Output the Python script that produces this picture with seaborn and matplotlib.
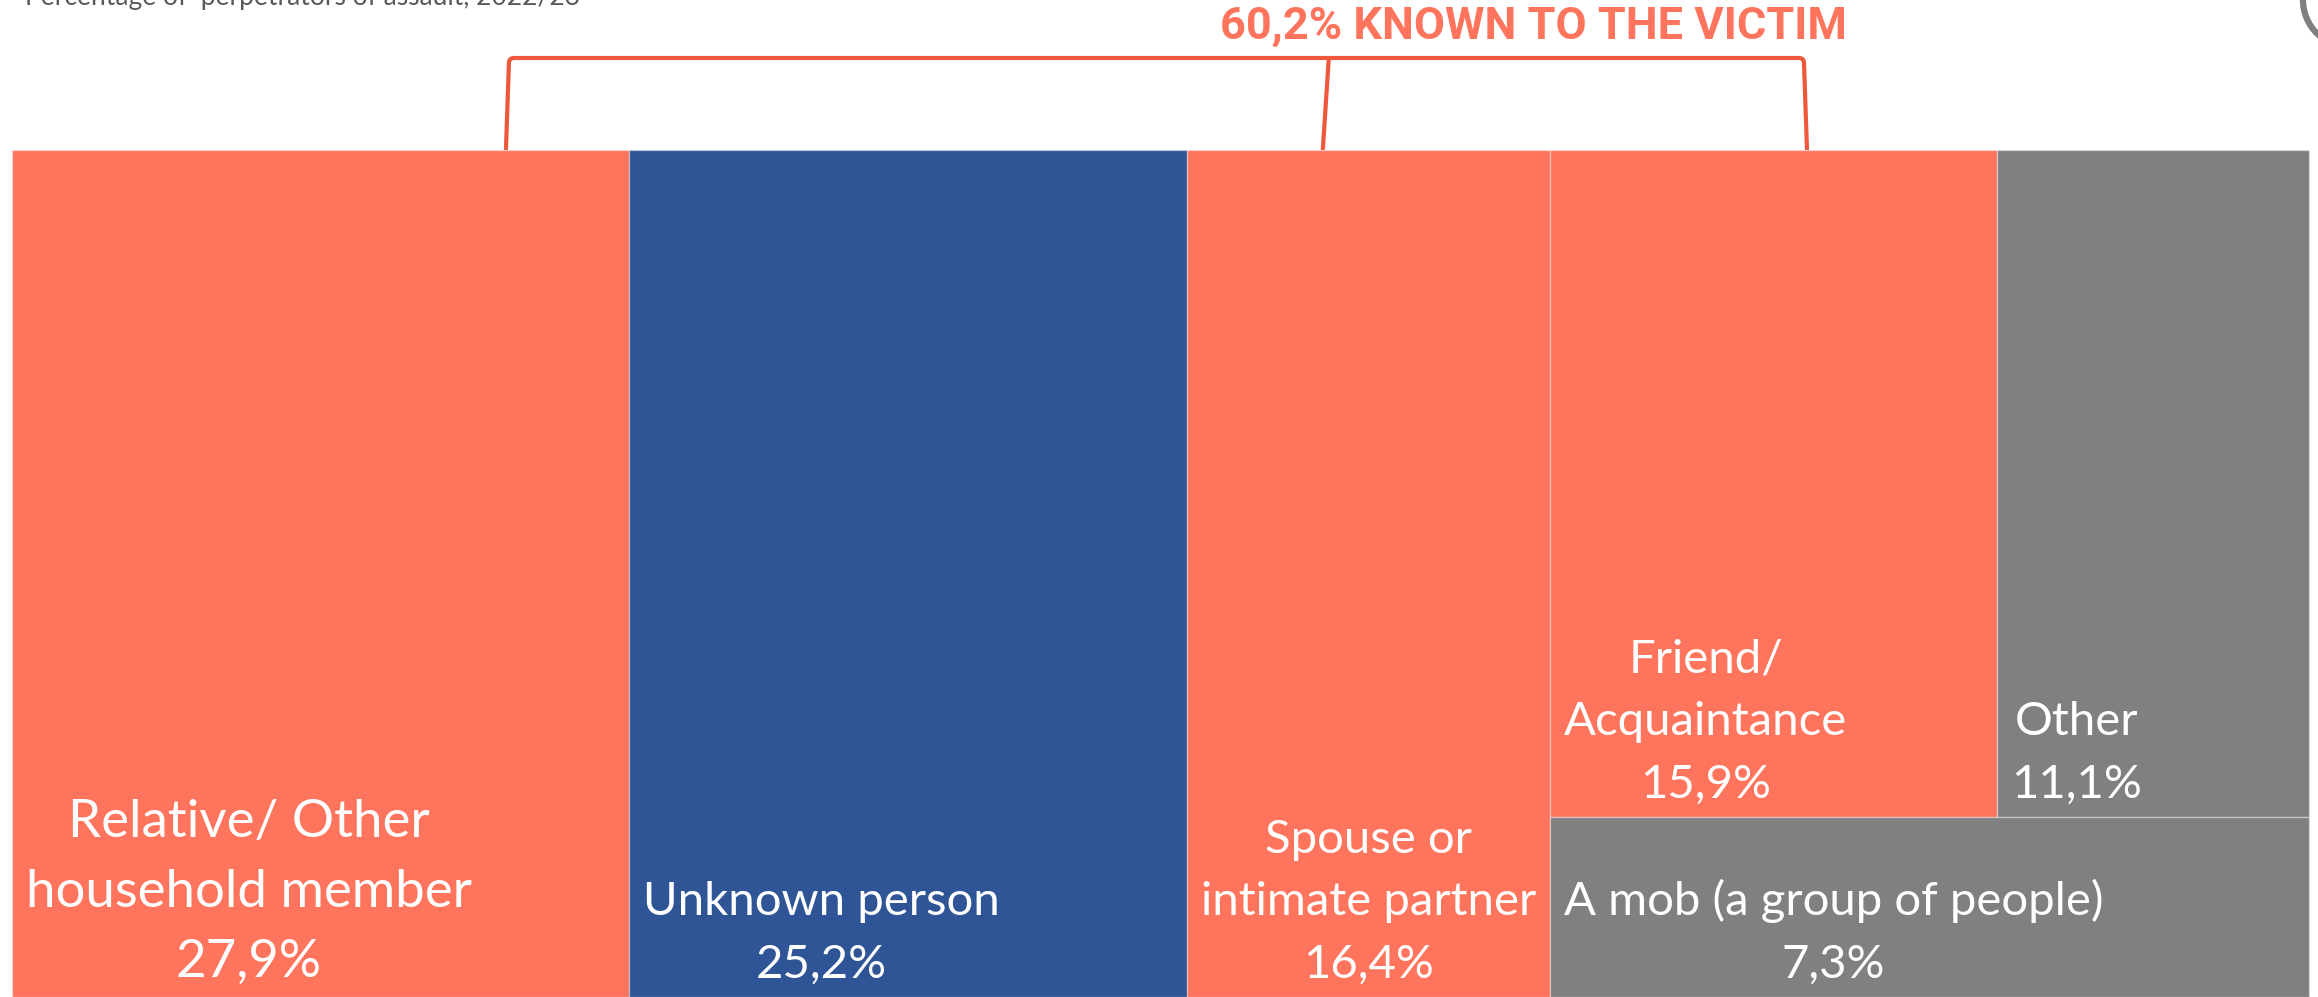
import matplotlib
matplotlib.use("Agg")
import matplotlib.pyplot as plt
import seaborn as sns
import numpy as np
from matplotlib.path import Path
from matplotlib.patches import PathPatch, Circle

# 数据：袭击者身份占比
labels = ["Relative/ Other\nhousehold member", "Unknown person", "Spouse or\nintimate partner",
          "Friend/\nAcquaintance", "Other", "A mob (a group of people)"]
values = [27.9, 25.2, 16.4, 15.9, 11.1, 7.3]
groups = ["known", "unknown", "known", "known", "other", "other"]
# 树状图的列和行编号
columns = [0, 1, 2, 3, 3, 3]
rows = [0, 0, 0, 0, 0, 1]

subtitle = "Percentage of  perpetrators of assault, 2022/23"

sns.set_style("white")
plt.rcParams['font.family'] = ['Lato', 'DejaVu Sans']

colors = {"known": "#FF745C", "unknown": "#2F5597", "other": "#808080"}
line_color = "#F0583E"

W, H = 2318, 997
fig = plt.figure(figsize=(W / 100, H / 100), dpi=100)
ax = fig.add_axes([0, 0, 1, 1])

total = sum(values)
# 像素到数据坐标的换算
left_px, right_px, top_px = 12, 2309, 150
sx = total / (right_px - left_px)
sy = 1.0 / (H - top_px)
ax.set_xlim(-left_px * sx, total + (W - right_px) * sx)
ax.set_ylim(0, H * sy)
ax.axis("off")

# 计算矩形（slice and dice）
values = np.array(values)
columns = np.array(columns)
rows = np.array(rows)
rects = [None] * len(values)
x = 0.0
for c in sorted(set(columns)):
    in_col = columns == c
    col_w = values[in_col].sum()
    col_total = values[in_col].sum()
    y = 1.0
    for r in sorted(set(rows[in_col])):
        in_row = in_col & (rows == r)
        row_h = values[in_row].sum() / col_total
        y -= row_h
        xx = x
        for i in np.where(in_row)[0]:
            w = values[i] / values[in_row].sum() * col_w
            rects[i] = (xx, y, w, row_h)
            xx += w
    x += col_w

for i, (rx, ry, rw, rh) in enumerate(rects):
    ax.bar(rx, rh, width=rw, bottom=ry, align="edge", color=colors[groups[i]],
           edgecolor=(1, 1, 1, 0.35), linewidth=1)
    size = 38 if i == 0 else 34
    txt = labels[i] + "\n" + f"{values[i]:.1f}%".replace(".", ",")
    ax.annotate(txt, (rx, ry), xytext=(10, 8), textcoords="offset points",
                ha="left", va="bottom", multialignment="center",
                color="white", fontsize=size, linespacing=1.6)

# 括号：已知的人
known_idx = [i for i, g in enumerate(groups) if g == "known"]
known_total = values[known_idx].sum()
fracs = [0.80, 0.374, 0.575]
xs = [rects[i][0] + f * rects[i][2] for i, f in zip(known_idx, fracs)]
y_top = (H - 58) * sy
lean = 3 * sx
rad_x, rad_y = 5 * sx, 5 * sy
verts = [(xs[0], 1.0), (xs[0] + lean, y_top - rad_y), (xs[0] + lean, y_top), (xs[0] + lean + rad_x, y_top),
         (xs[2] - lean - rad_x, y_top), (xs[2] - lean, y_top), (xs[2] - lean, y_top - rad_y), (xs[2], 1.0)]
codes = [Path.MOVETO, Path.LINETO, Path.CURVE3, Path.CURVE3,
         Path.LINETO, Path.CURVE3, Path.CURVE3, Path.LINETO]
ax.add_patch(PathPatch(Path(verts, codes), fill=False, edgecolor=line_color, lw=3, capstyle="butt",
                       joinstyle="round"))
ax.plot([xs[1], xs[1] + 2 * lean], [1.0, y_top], color=line_color, lw=3, solid_capstyle="butt")

ax.text((xs[1] + xs[2]) / 2 - 31 * sx, (H - 27) * sy,
        f"{known_total:.1f}% KNOWN TO THE VICTIM".replace(".", ","),
        ha="center", va="center", color="#FF745C", fontsize=32.5, fontweight="bold",
        family=["Liberation Sans Narrow", "Roboto", "DejaVu Sans"])

# 顶部被裁切的副标题
fig.text(25 / W, 1 - 5 / H, subtitle, ha="left", va="baseline", color="#595959", fontsize=19)

# 右上角的标志圆圈
logo = Circle((2350, H), 47, transform=None, fill=False, edgecolor="#7F7F7F", lw=4.5)
fig.patches.append(logo)

fig.savefig("out.png", dpi=100)
